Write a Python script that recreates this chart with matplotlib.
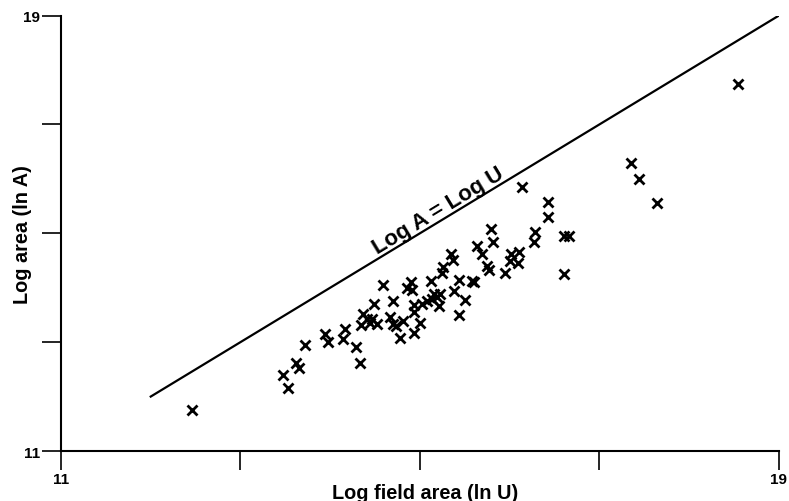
import numpy as np
import matplotlib
matplotlib.use("Agg")
import matplotlib.pyplot as plt

plt.rcParams['font.family'] = ['Liberation Sans', 'DejaVu Sans']

# Log field area (ln U) and log area (ln A)
log_u = [12.46, 13.47, 13.53, 13.62, 13.65, 13.72, 13.94, 13.97, 14.16, 14.14,
         14.29, 14.33, 14.36, 14.34, 14.41, 14.44, 14.47, 14.52, 14.49, 14.59,
         14.70, 14.67, 14.70, 14.73, 14.81, 14.78, 14.93, 15.00, 14.93, 14.93,
         15.02, 14.86, 14.90, 14.91, 15.08, 15.13, 15.16, 15.19, 15.21, 15.12,
         15.22, 15.26, 15.25, 15.35, 15.37, 15.38, 15.43, 15.50, 15.43, 15.58,
         15.60, 15.64, 15.69, 15.79, 15.81, 15.75, 15.77, 15.95, 16.01, 16.10,
         16.00, 16.09, 16.14, 16.28, 16.27, 16.43, 16.43, 16.60, 16.66, 16.60,
         17.35, 17.44, 17.64, 18.54]
log_a = [11.75, 12.40, 12.16, 12.62, 12.52, 12.95, 13.15, 13.00, 13.24, 13.06,
         12.91, 12.62, 13.52, 13.31, 13.42, 13.35, 13.42, 13.33, 13.70, 14.05,
         13.76, 13.46, 13.33, 13.30, 13.39, 13.08, 13.17, 13.35, 13.55, 13.68,
         13.70, 13.99, 14.10, 13.96, 13.76, 13.79, 13.88, 13.83, 13.66, 14.12,
         13.88, 14.38, 14.27, 14.62, 14.51, 13.94, 14.14, 13.77, 13.50, 14.12,
         14.10, 14.77, 14.62, 15.08, 14.84, 14.40, 14.32, 14.27, 14.62, 14.66,
         14.49, 14.45, 15.85, 15.02, 14.84, 15.57, 15.30, 14.95, 14.95, 14.25,
         16.29, 16.00, 15.56, 17.74]

# equality line Log A = Log U
line_range = [12, 19]
ticks = [11, 13, 15, 17, 19]
tick_labels = ["11", "", "", "", "19"]

fig = plt.figure(figsize=(7.89, 5.02), dpi=100)
ax = fig.add_axes([0.0773, 0.0996, 0.91, 0.8675])

ax.plot(line_range, line_range, color="black", lw=1.6)
ax.plot(log_u, log_a, linestyle="none", marker="x", color="black",
        markersize=6.5, markeredgewidth=2)

ax.set_xlim(11, 19)
ax.set_ylim(11, 19)
ax.set_xticks(ticks)
ax.set_yticks(ticks)
ax.set_xticklabels(tick_labels, fontsize=11, fontweight="bold")
ax.set_yticklabels(tick_labels, fontsize=11, fontweight="bold")
ax.tick_params(direction="out", length=14, width=1.2, pad=1)
for side in ["top", "right"]:
    ax.spines[side].set_visible(False)
for side in ["left", "bottom"]:
    ax.spines[side].set_linewidth(1.5)

ax.set_xlabel("Log field area (ln U)", fontsize=14.3, fontweight="bold")
ax.set_ylabel("Log area (ln A)", fontsize=14.3, fontweight="bold")
ax.xaxis.set_label_coords(0.507, -0.074)
ax.yaxis.set_label_coords(-0.041, 0.5)

# angle of the equality line on screen
p1, p2 = ax.transData.transform([(12, 12), (19, 19)])
angle = np.degrees(np.arctan2(p2[1] - p1[1], p2[0] - p1[0]))
ax.text(15.2, 15.42, "Log A = Log U", rotation=angle, rotation_mode="anchor",
        ha="center", va="center", fontsize=16, fontweight="bold")

fig.savefig("out.png", dpi=100)
